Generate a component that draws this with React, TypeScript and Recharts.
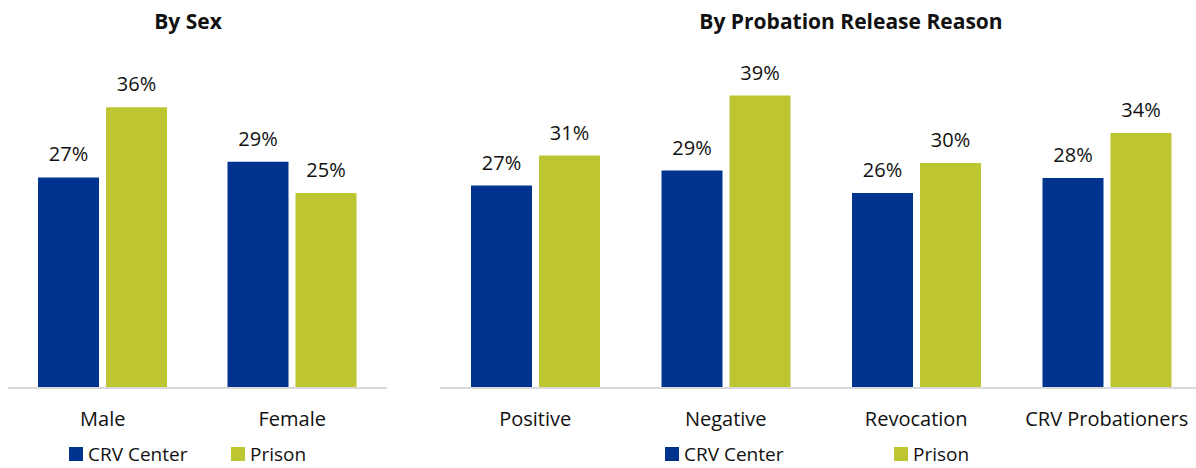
import { BarChart, Bar, XAxis, YAxis, LabelList } from "recharts";

const seriesNames = ["CRV Center", "Prison"];
const colors = ["#00338D", "#BDC531"];

const sexCategories = ["Male", "Female"];
const sexCrv = [27, 29];
const sexPrison = [36, 25];

const reasonCategories = ["Positive", "Negative", "Revocation", "CRV Probationers"];
const reasonCrv = [27, 29, 26, 28];
const reasonPrison = [31, 39, 30, 34];

const FONT = "'Open Sans', 'Noto Sans', sans-serif";

const build = (cats: string[], a: number[], b: number[]) =>
  cats.map((name, i) => ({ name, crv: a[i], prison: b[i] }));

const sexData = build(sexCategories, sexCrv, sexPrison);
const reasonData = build(reasonCategories, reasonCrv, reasonPrison);

const pct = (v: any) => `${v}%`;

const Legend = ({ left, gap }: { left: number; gap: number }) => (
  <div
    style={{
      position: "absolute",
      left,
      top: 443,
      height: 22,
      lineHeight: "22px",
      display: "flex",
      alignItems: "center",
      fontFamily: FONT,
      fontSize: 19,
      color: "#111",
      whiteSpace: "nowrap",
    }}
  >
    {seriesNames.map((s, i) => (
      <div
        key={s}
        style={{ display: "flex", alignItems: "center", width: i === 0 ? gap : undefined }}
      >
        <span
          style={{ width: 14, height: 14, background: colors[i], marginRight: 5, display: "inline-block" }}
        />
        {s}
      </div>
    ))}
  </div>
);

const Title = ({ text, cx }: { text: string; cx: number }) => (
  <div
    style={{
      position: "absolute",
      left: cx - 250,
      width: 500,
      top: 7,
      textAlign: "center",
      fontFamily: FONT,
      fontWeight: 700,
      fontSize: 21,
      color: "#111",
    }}
  >
    {text}
  </div>
);

const Chart = ({ data, width, margin }: { data: any[]; width: number; margin: any }) => (
  <BarChart width={width} height={468} data={data} margin={margin} barGap={7} barSize={61}>
    <YAxis hide domain={[0, 40]} />
    <XAxis
      dataKey="name"
      height={30}
      tickLine={false}
      tickSize={0}
      tickMargin={24}
      axisLine={{ stroke: "#D9D9D9", strokeWidth: 2 }}
      tick={{ fill: "#111", fontSize: 20, fontFamily: FONT }}
      interval={0}
    />
    <Bar dataKey="crv" fill={colors[0]} isAnimationActive={false}>
      <LabelList dataKey="crv" position="top" offset={16} formatter={pct} fill="#111" fontSize={20} fontFamily={FONT} />
    </Bar>
    <Bar dataKey="prison" fill={colors[1]} isAnimationActive={false}>
      <LabelList dataKey="prison" position="top" offset={16} formatter={pct} fill="#111" fontSize={20} fontFamily={FONT} />
    </Bar>
  </BarChart>
);

export default function App() {
  return (
    <div
      style={{
        position: "fixed",
        left: 0,
        top: 0,
        width: 1196,
        height: 468,
        overflow: "hidden",
        background: "#fff",
      }}
    >
      <div style={{ position: "absolute", left: 0, top: 0 }}>
        <Chart data={sexData} width={400} margin={{ top: 76, left: 8, right: 13, bottom: 50 }} />
      </div>
      <div style={{ position: "absolute", left: 430, top: 0 }}>
        <Chart data={reasonData} width={780} margin={{ top: 88, left: 10, right: 8, bottom: 50 }} />
      </div>
      <Title text="By Sex" cx={188} />
      <Title text="By Probation Release Reason" cx={851} />
      <Legend left={69} gap={162} />
      <Legend left={665} gap={229} />
    </div>
  );
}
